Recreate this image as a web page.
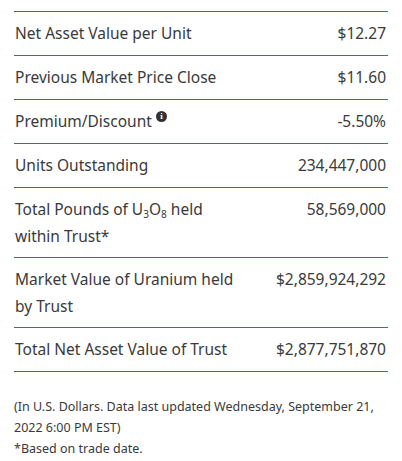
<!DOCTYPE html>
<html><head><meta charset="utf-8">
<script src="https://cdn.jsdelivr.net/npm/chart.js@4"></script>
<style>
body{margin:0;width:402px;height:461px;background:#fff;font-family:"Noto Sans","Open Sans",sans-serif;color:#3a3a3a;}
.row{position:absolute;left:14px;width:374px;border-top:1.5px solid #3a7282;font-size:15.5px;}
.l{position:absolute;left:1px;line-height:27px;}
.r{position:absolute;right:2px;line-height:27px;}
.note{position:absolute;left:14px;top:396px;font-size:12.5px;line-height:21px;color:#3a3a3a;}
sub{font-size:10px;vertical-align:-3px;line-height:0}
.i{display:inline-block;width:11px;height:11px;border-radius:50%;background:#333;color:#fff;font-size:9px;line-height:11px;text-align:center;font-weight:bold;vertical-align:8px;font-family:serif}
</style></head><body>
<div id="t"></div>
<div class="note">(In U.S. Dollars. Data last updated Wednesday, September 21,<br>2022 6:00 PM EST)<br>*Based on trade date.</div>
<script>
const labels=["Net Asset Value per Unit","Previous Market Price Close","Premium/Discount <span class='i'>i</span>","Units Outstanding","Total Pounds of U<sub>3</sub>O<sub>8</sub> held<br>within Trust*","Market Value of Uranium held<br>by Trust","Total Net Asset Value of Trust"];
const values=["$12.27","$11.60","-5.50%","234,447,000","58,569,000","$2,859,924,292","$2,877,751,870"];
const tops=[11,55,99,143,187,257,327,371];
let h="";
for(let i=0;i<labels.length;i++){
 const hgt=tops[i+1]-tops[i];
 h+=`<div class="row" style="top:${tops[i]}px;height:${hgt}px"><div class="l" style="top:8px">${labels[i]}</div><div class="r" style="top:8px">${values[i]}</div></div>`;
}
h+=`<div class="row" style="top:371px;height:0"></div>`;
document.getElementById('t').innerHTML=h;
</script>
</body></html>
